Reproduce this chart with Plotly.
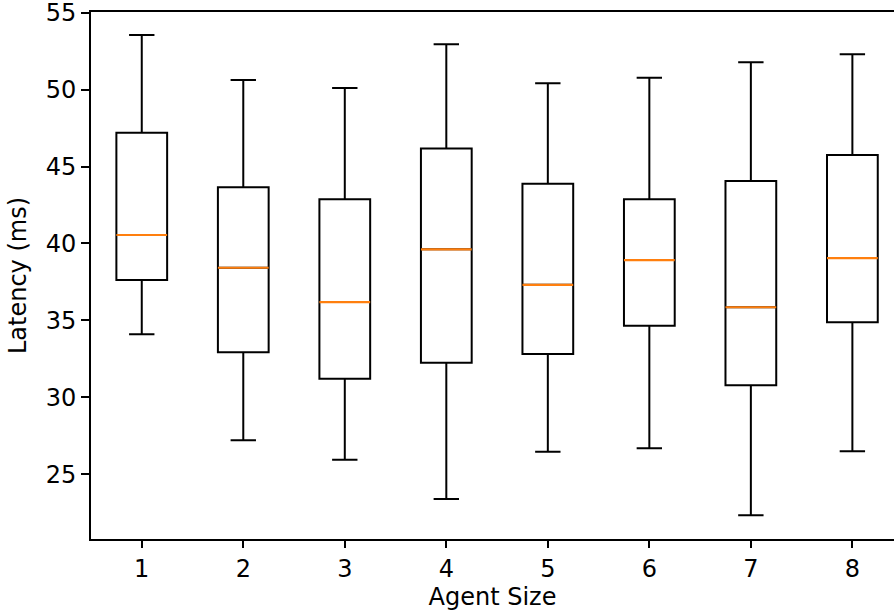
import plotly.graph_objects as go

agent_sizes = [1, 2, 3, 4, 5, 6, 7, 8]
lower_whisker = [34.09, 27.20, 25.94, 23.38, 26.46, 26.68, 22.32, 26.48]
q1_values = [37.62, 32.92, 31.20, 32.24, 32.81, 34.65, 30.77, 34.87]
median_values = [40.55, 38.42, 36.19, 39.62, 37.31, 38.92, 35.85, 39.05]
q3_values = [47.20, 43.65, 42.87, 46.18, 43.88, 42.87, 44.06, 45.75]
upper_whisker = [53.55, 50.62, 50.10, 52.96, 50.41, 50.77, 51.79, 52.31]
y_ticks = [25, 30, 35, 40, 45, 50, 55]

FONT = "DejaVu Sans"

fig = go.Figure()
fig.add_trace(go.Box(
    x=agent_sizes,
    q1=q1_values,
    median=median_values,
    q3=q3_values,
    lowerfence=lower_whisker,
    upperfence=upper_whisker,
    width=0.5,
    whiskerwidth=0.5,
    line=dict(color="black", width=2),
    fillcolor="rgba(0,0,0,0)",
    boxpoints=False,
    hoverinfo="skip",
    showlegend=False,
))
# orange median lines (matplotlib style)
fig.add_trace(go.Box(
    x=agent_sizes,
    q1=median_values,
    median=median_values,
    q3=median_values,
    lowerfence=median_values,
    upperfence=median_values,
    width=0.5,
    whiskerwidth=0,
    line=dict(color="#ff7f0e", width=2.2),
    fillcolor="rgba(0,0,0,0)",
    boxpoints=False,
    hoverinfo="skip",
    showlegend=False,
))

fig.update_layout(
    width=894,
    height=615,
    margin=dict(l=91, r=0, t=12, b=76),
    plot_bgcolor="white",
    paper_bgcolor="white",
    font=dict(family=FONT, size=24, color="black"),
    boxmode="overlay",
    xaxis=dict(
        range=[0.5, 8.41],
        tickvals=agent_sizes,
        ticktext=[str(a) for a in agent_sizes],
        ticks="outside",
        ticklen=7,
        tickwidth=2,
        tickcolor="black",
        showline=True,
        linecolor="black",
        linewidth=2,
        mirror=True,
        showgrid=False,
        zeroline=False,
        automargin=False,
        ticklabeloverflow="allow",
        tickfont=dict(family=FONT, size=24),
        title=dict(text="Agent Size", font=dict(family=FONT, size=24), standoff=6),
    ),
    yaxis=dict(
        range=[20.78, 55.05],
        tickvals=y_ticks,
        ticks="outside",
        ticklen=8,
        tickwidth=2,
        tickcolor="black",
        showline=True,
        linecolor="black",
        linewidth=2,
        mirror=False,
        showgrid=False,
        zeroline=False,
        automargin=False,
        ticklabeloverflow="allow",
        tickfont=dict(family=FONT, size=24),
        title=dict(text="Latency (ms)", font=dict(family=FONT, size=24), standoff=12),
    ),
)

fig.write_html("out.html")
